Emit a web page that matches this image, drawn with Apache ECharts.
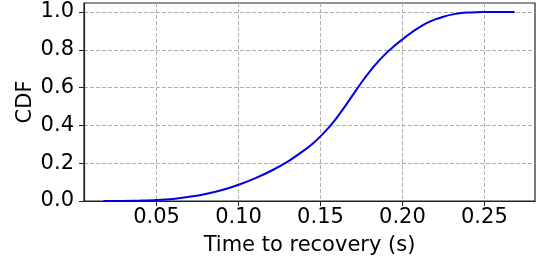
<!DOCTYPE html>
<html><head><meta charset="utf-8">
<script src="https://cdn.jsdelivr.net/npm/echarts@6/dist/echarts.min.js"></script>
<style>html,body{margin:0;padding:0;background:#fff}#c{width:538px;height:265px}</style>
</head><body><div id="c"></div>
<script>
const timeValues = [0.0175, 0.03, 0.04, 0.05, 0.06, 0.07, 0.08, 0.09, 0.10, 0.11, 0.12, 0.13, 0.14, 0.145, 0.15, 0.155, 0.16, 0.165, 0.17, 0.175, 0.18, 0.185, 0.19, 0.195, 0.20, 0.205, 0.21, 0.215, 0.22, 0.225, 0.23, 0.235, 0.24, 0.245, 0.25, 0.26, 0.2685];
const cdfValues = [0, 0.0005, 0.002, 0.005, 0.011, 0.022, 0.037, 0.058, 0.086, 0.12, 0.16, 0.208, 0.268, 0.302, 0.342, 0.388, 0.441, 0.501, 0.564, 0.627, 0.685, 0.736, 0.781, 0.820, 0.855, 0.888, 0.917, 0.942, 0.961, 0.975, 0.986, 0.993, 0.997, 0.999, 1.0, 1.0, 1.0];
const xTicks = [0.05, 0.10, 0.15, 0.20, 0.25];
const yTicks = [0.0, 0.2, 0.4, 0.6, 0.8, 1.0];
const xLabel = 'Time to recovery (s)';
const yLabel = 'CDF';

const font = 'DejaVu Sans';
const chart = echarts.init(document.getElementById('c'), null, {renderer: 'canvas'});
const gridLine = {show: true, lineStyle: {color: '#b0b0b0', type: [4, 2], width: 1}};
chart.setOption({
  animation: false,
  grid: {left: 84, right: 3, top: 3, bottom: 64, show: true, borderColor: '#222', borderWidth: 1.2, backgroundColor: 'transparent'},
  xAxis: {
    type: 'value', min: 0.0057, max: 0.2809,
    name: xLabel, nameLocation: 'middle', nameGap: 34,
    nameTextStyle: {fontFamily: font, fontSize: 21, color: '#000'},
    axisLine: {show: true, onZero: false, lineStyle: {color: '#222', width: 1.2}},
    axisTick: {show: true, inside: false, length: 5, customValues: xTicks, lineStyle: {color: '#222'}},
    axisLabel: {customValues: xTicks, margin: 6, fontFamily: font, fontSize: 21, color: '#000', formatter: v => v.toFixed(2)},
    splitLine: gridLine
  },
  yAxis: {
    type: 'value', min: 0, max: 1.0476,
    name: yLabel, nameLocation: 'middle', nameGap: 48, nameMoveOverlap: false,
    nameTextStyle: {fontFamily: font, fontSize: 21, color: '#000'},
    axisLine: {show: true, onZero: false, lineStyle: {color: '#222', width: 1.2}},
    axisTick: {show: true, inside: false, length: 5, customValues: yTicks, lineStyle: {color: '#222'}},
    axisLabel: {customValues: yTicks, margin: 10, fontFamily: font, fontSize: 21, color: '#000', formatter: v => v.toFixed(1)},
    splitLine: gridLine
  },
  series: [{
    type: 'line', showSymbol: false, smooth: 0.3,
    data: timeValues.map((t, i) => [t, cdfValues[i]]),
    lineStyle: {color: '#0000e0', width: 2},
    clip: true
  }]
});
</script></body></html>
